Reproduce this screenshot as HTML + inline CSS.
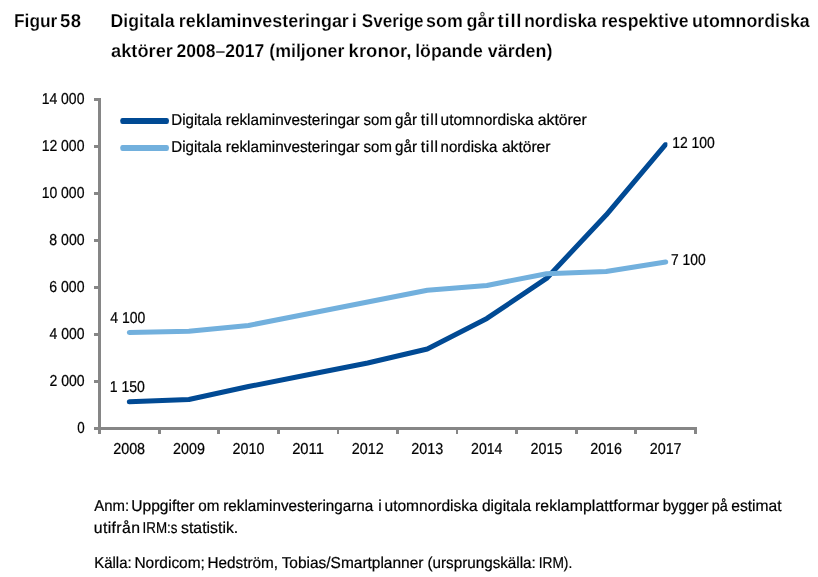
<!DOCTYPE html>
<html><head><meta charset="utf-8"><title>Figur 58</title>
<style>
html,body{margin:0;padding:0;background:#fff;}
body{width:818px;height:577px;overflow:hidden;font-family:"Liberation Sans",sans-serif;}
svg{display:block;will-change:transform;opacity:0.999;}
text{font-family:"Liberation Sans",sans-serif;fill:#000;text-rendering:geometricPrecision;}
.t{font-weight:bold;font-size:18.5px;stroke:#fff;stroke-width:0.2px;}
.a{font-size:15.8px;stroke:#000;stroke-width:0.22px;}
</style></head><body>
<svg width="818" height="577" viewBox="0 0 818 577">
<rect width="818" height="577" fill="#fff"/>
<g stroke="#868686" stroke-width="3" fill="none">
<path d="M99.5 98.0 V434.0"/>
<path d="M94.0 428.5 H697.0"/>
<path d="M94.0 381.5 H99.5"/>
<path d="M94.0 334.5 H99.5"/>
<path d="M94.0 287.5 H99.5"/>
<path d="M94.0 240.5 H99.5"/>
<path d="M94.0 193.5 H99.5"/>
<path d="M94.0 146.5 H99.5"/>
<path d="M94.0 99.5 H99.5"/>
</g>
<rect x="158" y="429" width="3" height="5" fill="#868686"/>
<rect x="217" y="429" width="3" height="5" fill="#868686"/>
<rect x="277" y="429" width="3" height="5" fill="#868686"/>
<rect x="337" y="429" width="2" height="5" fill="#868686"/>
<rect x="396" y="429" width="3" height="5" fill="#868686"/>
<rect x="456" y="429" width="2" height="5" fill="#868686"/>
<rect x="515" y="429" width="3" height="5" fill="#868686"/>
<rect x="575" y="429" width="3" height="5" fill="#868686"/>
<rect x="634" y="429" width="3" height="5" fill="#868686"/>
<rect x="694" y="429" width="3" height="5" fill="#868686"/>
<g transform="translate(0,0.35)">
<clipPath id="c"><rect x="100" y="141.95" width="567.4" height="300"/></clipPath>
<polyline clip-path="url(#c)" points="129.3,401.5 188.9,399.1 248.5,386.2 308.1,374.4 367.7,362.7 427.3,348.6 486.9,318.1 546.5,278.1 606.1,214.7 665.7,144.1" fill="none" stroke="#004A94" stroke-width="5.0" stroke-linejoin="round" stroke-linecap="round"/>
<polyline points="129.3,332.1 188.9,331.0 248.5,325.1 308.1,313.4 367.7,301.6 427.3,289.9 486.9,285.1 546.5,273.4 606.1,271.1 665.7,261.6" fill="none" stroke="#72B0DD" stroke-width="5.0" stroke-linejoin="round" stroke-linecap="round"/>
</g>
<rect x="120.3" y="118" width="48.6" height="6" rx="2.2" fill="#004A94"/>
<rect x="120.3" y="145" width="48.6" height="6" rx="2.2" fill="#72B0DD"/>
<text class="t" x="13.97" y="26.9" textLength="43.40" lengthAdjust="spacingAndGlyphs">Figur</text>
<text class="t" x="60.00" y="26.9" textLength="21.03" lengthAdjust="spacing">58</text>
<text class="t" x="110.60" y="26.9" textLength="63.89" lengthAdjust="spacingAndGlyphs">Digitala</text>
<text class="t" x="178.81" y="26.9" textLength="170.04" lengthAdjust="spacingAndGlyphs">reklaminvesteringar</text>
<text class="t" x="351.78" y="26.9">i</text>
<text class="t" x="361.75" y="26.9" textLength="61.87" lengthAdjust="spacingAndGlyphs">Sverige</text>
<text class="t" x="426.10" y="26.9" textLength="36.63" lengthAdjust="spacingAndGlyphs">som</text>
<text class="t" x="466.61" y="26.9" textLength="27.90" lengthAdjust="spacingAndGlyphs">går</text>
<text class="t" x="497.55" y="26.9" textLength="23.96" lengthAdjust="spacing">till</text>
<text class="t" x="524.23" y="26.9" textLength="72.56" lengthAdjust="spacingAndGlyphs">nordiska</text>
<text class="t" x="601.17" y="26.9" textLength="87.37" lengthAdjust="spacingAndGlyphs">respektive</text>
<text class="t" x="692.10" y="26.9" textLength="117.65" lengthAdjust="spacingAndGlyphs">utomnordiska</text>
<text class="t" x="111.07" y="57.0" textLength="61.85" lengthAdjust="spacingAndGlyphs">aktörer</text>
<text class="t" x="176.58" y="57.0" textLength="87.71" lengthAdjust="spacingAndGlyphs">2008–2017</text>
<text class="t" x="269.29" y="57.0" textLength="75.04" lengthAdjust="spacingAndGlyphs">(miljoner</text>
<text class="t" x="348.58" y="57.0" textLength="62.78" lengthAdjust="spacingAndGlyphs">kronor,</text>
<text class="t" x="415.20" y="57.0" textLength="67.72" lengthAdjust="spacingAndGlyphs">löpande</text>
<text class="t" x="487.78" y="57.0" textLength="64.64" lengthAdjust="spacingAndGlyphs">värden)</text>
<text class="a" x="171.23" y="124.9" textLength="50.48" lengthAdjust="spacingAndGlyphs">Digitala</text>
<text class="a" x="225.84" y="124.9" textLength="133.75" lengthAdjust="spacingAndGlyphs">reklaminvesteringar</text>
<text class="a" x="363.62" y="124.9" textLength="28.25" lengthAdjust="spacingAndGlyphs">som</text>
<text class="a" x="395.06" y="124.9" textLength="21.98" lengthAdjust="spacingAndGlyphs">går</text>
<text class="a" x="420.67" y="124.9" textLength="17.37" lengthAdjust="spacing">till</text>
<text class="a" x="440.54" y="124.9" textLength="93.19" lengthAdjust="spacingAndGlyphs">utomnordiska</text>
<text class="a" x="537.85" y="124.9" textLength="48.96" lengthAdjust="spacingAndGlyphs">aktörer</text>
<text class="a" x="171.23" y="151.8" textLength="50.48" lengthAdjust="spacingAndGlyphs">Digitala</text>
<text class="a" x="225.84" y="151.8" textLength="133.75" lengthAdjust="spacingAndGlyphs">reklaminvesteringar</text>
<text class="a" x="363.62" y="151.8" textLength="28.25" lengthAdjust="spacingAndGlyphs">som</text>
<text class="a" x="395.06" y="151.8" textLength="21.98" lengthAdjust="spacingAndGlyphs">går</text>
<text class="a" x="420.67" y="151.8" textLength="17.37" lengthAdjust="spacing">till</text>
<text class="a" x="440.55" y="151.8" textLength="56.89" lengthAdjust="spacingAndGlyphs">nordiska</text>
<text class="a" x="501.91" y="151.8" textLength="48.60" lengthAdjust="spacingAndGlyphs">aktörer</text>
<text class="a" x="94.33" y="510.7" textLength="34.83" lengthAdjust="spacingAndGlyphs">Anm:</text>
<text class="a" x="131.21" y="510.7" textLength="63.27" lengthAdjust="spacingAndGlyphs">Uppgifter</text>
<text class="a" x="198.31" y="510.7" textLength="21.13" lengthAdjust="spacingAndGlyphs">om</text>
<text class="a" x="223.26" y="510.7" textLength="150.10" lengthAdjust="spacingAndGlyphs">reklaminvesteringarna</text>
<text class="a" x="378.30" y="510.7">i</text>
<text class="a" x="384.53" y="510.7" textLength="93.21" lengthAdjust="spacingAndGlyphs">utomnordiska</text>
<text class="a" x="481.96" y="510.7" textLength="49.13" lengthAdjust="spacingAndGlyphs">digitala</text>
<text class="a" x="535.03" y="510.7" textLength="124.29" lengthAdjust="spacing">reklamplattformar</text>
<text class="a" x="662.81" y="510.7" textLength="45.64" lengthAdjust="spacingAndGlyphs">bygger</text>
<text class="a" x="711.69" y="510.7" textLength="16.04" lengthAdjust="spacingAndGlyphs">på</text>
<text class="a" x="731.24" y="510.7" textLength="50.33" lengthAdjust="spacingAndGlyphs">estimat</text>
<text class="a" x="93.84" y="533.4" textLength="46.09" lengthAdjust="spacing">utifrån</text>
<text class="a" x="142.61" y="533.4" textLength="34.89" lengthAdjust="spacingAndGlyphs">IRM:s</text>
<text class="a" x="181.06" y="533.4" textLength="57.17" lengthAdjust="spacing">statistik.</text>
<text class="a" x="94.20" y="567.8" textLength="37.44" lengthAdjust="spacingAndGlyphs">Källa:</text>
<text class="a" x="134.47" y="567.8" textLength="70.39" lengthAdjust="spacingAndGlyphs">Nordicom;</text>
<text class="a" x="207.54" y="567.8" textLength="70.58" lengthAdjust="spacingAndGlyphs">Hedström,</text>
<text class="a" x="281.65" y="567.8" textLength="141.74" lengthAdjust="spacingAndGlyphs">Tobias/Smartplanner</text>
<text class="a" x="427.47" y="567.8" textLength="108.35" lengthAdjust="spacingAndGlyphs">(ursprungskälla:</text>
<text class="a" x="538.64" y="567.8" textLength="33.65" lengthAdjust="spacingAndGlyphs">IRM).</text>
<text class="a" x="77.15" y="433.0" textLength="7.45" lengthAdjust="spacingAndGlyphs">0</text>
<text class="a" x="49.42" y="386.0" textLength="35.17" lengthAdjust="spacingAndGlyphs">2 000</text>
<text class="a" x="49.59" y="339.0" textLength="34.93" lengthAdjust="spacingAndGlyphs">4 000</text>
<text class="a" x="49.28" y="292.0" textLength="35.26" lengthAdjust="spacingAndGlyphs">6 000</text>
<text class="a" x="49.37" y="245.0" textLength="35.26" lengthAdjust="spacingAndGlyphs">8 000</text>
<text class="a" x="41.63" y="198.0" textLength="42.83" lengthAdjust="spacingAndGlyphs">10 000</text>
<text class="a" x="41.63" y="151.0" textLength="42.83" lengthAdjust="spacingAndGlyphs">12 000</text>
<text class="a" x="41.63" y="104.0" textLength="42.83" lengthAdjust="spacingAndGlyphs">14 000</text>
<text class="a" x="113.16" y="454.3" textLength="31.97" lengthAdjust="spacingAndGlyphs">2008</text>
<text class="a" x="173.04" y="454.3" textLength="31.91" lengthAdjust="spacingAndGlyphs">2009</text>
<text class="a" x="232.55" y="454.3" textLength="31.90" lengthAdjust="spacingAndGlyphs">2010</text>
<text class="a" x="292.16" y="454.3" textLength="31.79" lengthAdjust="spacingAndGlyphs">2011</text>
<text class="a" x="351.77" y="454.3" textLength="32.08" lengthAdjust="spacingAndGlyphs">2012</text>
<text class="a" x="411.16" y="454.3" textLength="32.01" lengthAdjust="spacingAndGlyphs">2013</text>
<text class="a" x="471.06" y="454.3" textLength="31.44" lengthAdjust="spacingAndGlyphs">2014</text>
<text class="a" x="530.55" y="454.3" textLength="31.79" lengthAdjust="spacingAndGlyphs">2015</text>
<text class="a" x="590.19" y="454.3" textLength="31.79" lengthAdjust="spacingAndGlyphs">2016</text>
<text class="a" x="649.78" y="454.3" textLength="31.82" lengthAdjust="spacingAndGlyphs">2017</text>
<text class="a" x="110.34" y="323.0" textLength="35.06" lengthAdjust="spacingAndGlyphs">4 100</text>
<text class="a" x="109.66" y="391.7" textLength="35.25" lengthAdjust="spacingAndGlyphs">1 150</text>
<text class="a" x="672.21" y="148.0" textLength="42.63" lengthAdjust="spacingAndGlyphs">12 100</text>
<text class="a" x="671.03" y="265.0" textLength="34.68" lengthAdjust="spacingAndGlyphs">7 100</text>
</svg></body></html>
